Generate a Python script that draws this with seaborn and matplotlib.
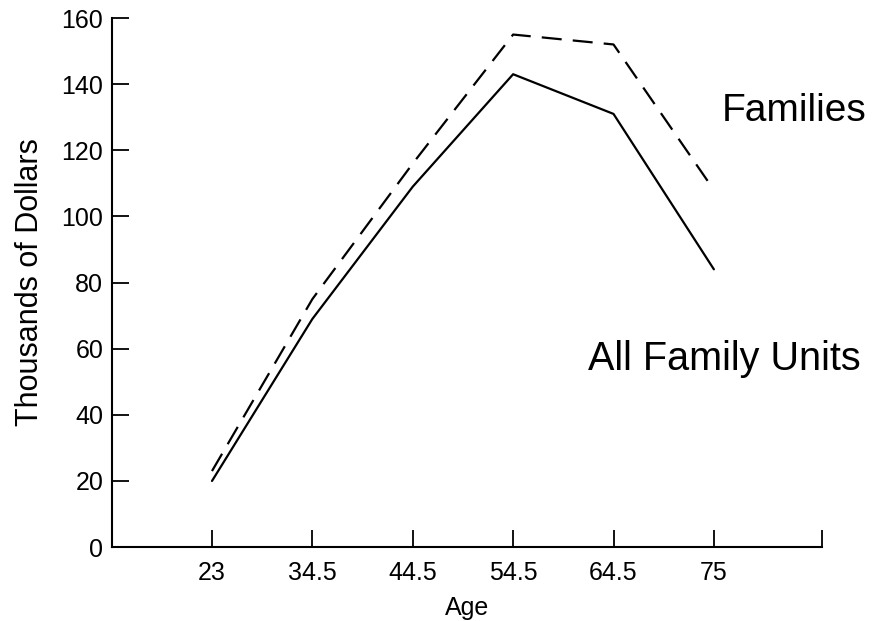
import numpy as np
import pandas as pd
import matplotlib
matplotlib.use("Agg")
import matplotlib.pyplot as plt
import seaborn as sns

ages = ["23", "34.5", "44.5", "54.5", "64.5", "75"]
all_units = [20, 69, 109, 143, 131, 84]
families = [23, 75, 116, 155, 152, 108]
y_ticks = [0, 20, 40, 60, 80, 100, 120, 140, 160]

pos = np.arange(len(ages))
df = pd.DataFrame({
    "pos": np.concatenate([pos, pos]),
    "value": all_units + families,
    "series": ["All Family Units"] * len(ages) + ["Families"] * len(ages),
})

sns.set_style("white")
plt.rcParams["font.family"] = ["Liberation Sans", "DejaVu Sans"]
plt.rcParams["text.color"] = "black"
plt.rcParams["axes.labelcolor"] = "black"

fig = plt.figure(figsize=(8.72, 6.21), dpi=100)
ax = fig.add_axes([0.128, 0.119, 0.815, 0.852])

sns.lineplot(data=df, x="pos", y="value", style="series",
             dashes={"All Family Units": "", "Families": (9, 5)},
             color="black", linewidth=1.6, legend=False, ax=ax)

ax.set_xlim(-1, 6.08)
ax.set_ylim(0, 160)
ax.set_xticks(list(pos) + [6.08])
ax.set_xticklabels(ages + [""])
ax.set_yticks(y_ticks)
ax.tick_params(axis="both", direction="in", length=12, width=1.3,
               labelsize=18, colors="black", bottom=True, left=True)
ax.tick_params(axis="x", pad=10)
ax.tick_params(axis="y", pad=6)

for s in ["top", "right"]:
    ax.spines[s].set_visible(False)
for s in ["left", "bottom"]:
    ax.spines[s].set_linewidth(1.5)
    ax.spines[s].set_color("black")

ax.set_xlabel("Age", fontsize=18, labelpad=8)
ax.set_ylabel("Thousands of Dollars", fontsize=22, labelpad=12)

ax.text(5.08, 132, "Families", fontsize=28, ha="left", va="center")
ax.text(3.75, 57, "All Family Units", fontsize=28.5, ha="left", va="center")

fig.savefig("out.png", dpi=100)
